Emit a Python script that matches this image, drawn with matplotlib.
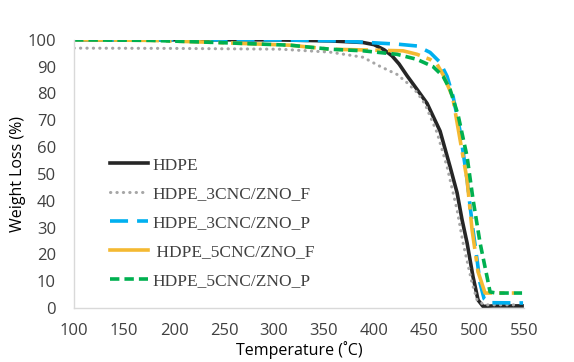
import numpy as np
import matplotlib.pyplot as plt
from matplotlib.lines import Line2D

# TGA curves (temperature in C, weight %)
t_hdpe = [100, 200, 300, 356, 389, 400, 410, 418, 425, 433, 443, 453, 466, 476, 483, 488, 493, 499, 504, 509, 519, 548]
w_hdpe = [100, 100, 100, 99.6, 99, 98.2, 96.3, 94, 91, 86.6, 81.5, 76.3, 66, 52.7, 43, 32.9, 24.3, 11.6, 3, 0.6, 0.8, 0.8]

t_3f = [100, 200, 306, 356, 389, 406, 423, 433, 443, 451, 463, 473, 483, 489, 498, 503, 510, 545]
w_3f = [96.9, 96.8, 96.5, 95.4, 93.5, 90.1, 87.1, 84, 80.4, 76, 65.4, 52.7, 36.6, 24.3, 9.3, 3, 1.2, 1.2]

t_3p = [100, 200, 300, 366, 423, 443, 456, 466, 473, 479, 486, 493, 496, 499, 503, 506, 510, 515, 549]
w_3p = [100, 100, 100, 99.6, 98.4, 97.7, 95.3, 91.6, 86.4, 78.9, 66, 48, 38, 29, 18, 9.3, 3.5, 2, 1.9]

t_5f = [100, 176, 243, 316, 356, 429, 443, 456, 463, 469, 476, 479, 486, 493, 498, 504, 511, 516, 540]
w_5f = [100, 99.8, 99, 98, 96.5, 95.9, 94.6, 92.7, 90.9, 87, 81, 77.8, 62.8, 47.9, 29.2, 13.5, 5.6, 5.6, 5.6]

t_5p = [100, 176, 243, 316, 356, 389, 423, 443, 459, 469, 476, 484, 493, 499, 506, 513, 516, 522, 548]
w_5p = [100, 99.8, 99, 98, 96.5, 95.9, 94.6, 92.7, 90, 86.4, 81.5, 72, 56.5, 40.4, 24.3, 11.6, 6, 5.6, 5.6]

labels = ["HDPE", "HDPE_3CNC/ZNO_F", "HDPE_3CNC/ZNO_P", " HDPE_5CNC/ZNO_F", "HDPE_5CNC/ZNO_P"]
x_ticks = [100, 150, 200, 250, 300, 350, 400, 450, 500, 550]
y_ticks = [0, 10, 20, 30, 40, 50, 60, 70, 80, 90, 100]

plt.rcParams['font.family'] = ['Open Sans', 'DejaVu Sans']

fig = plt.figure(figsize=(5.74, 3.62), dpi=100)
ax = fig.add_axes([0.129, 0.149, 0.784, 0.741])

ax.plot(t_hdpe, w_hdpe, color='#262626', lw=2.6, label=labels[0], solid_joinstyle='round')
ax.plot(t_3f, w_3f, color='#a6a6a6', lw=2.2, ls=(0, (0.1, 2.0)), dash_capstyle='round', label=labels[1])
ax.plot(t_3p, w_3p, color='#00b0f0', lw=2.6, ls=(0, (5, 2.5)), label=labels[2])
ax.plot(t_5f, w_5f, color='#f4b932', lw=2.6, ls=(0, (9, 2, 1.5, 2)), label=labels[3])
ax.plot(t_5p, w_5p, color='#00b050', lw=2.6, ls=(0, (2.6, 1.4)), label=labels[4])

ax.set_xlim(100, 550)
ax.set_ylim(0, 100)
ax.set_xticks(x_ticks)
ax.set_yticks(y_ticks)
ax.tick_params(length=0, labelsize=12, colors='#404040')
ax.tick_params(axis='y', pad=13)
ax.tick_params(axis='x', pad=11)
for s in ['top', 'right']:
    ax.spines[s].set_visible(False)
for s in ['left', 'bottom']:
    ax.spines[s].set_color('#d9d9d9')
    ax.spines[s].set_linewidth(1)

ax.set_xlabel("Temperature (˚C)", fontsize=11.5, color='black', labelpad=1)
ax.set_ylabel("Weight Loss (%)", fontsize=11.5, color='black', labelpad=1)

# legend: the orange entry shows as a plain segment, as in the reference
handles, _ = ax.get_legend_handles_labels()
handles[3] = Line2D([], [], color='#f4b932', lw=2.6)
leg = ax.legend(handles, labels, loc='upper left', bbox_to_anchor=(0.045, 0.62), frameon=False,
                prop={'family': 'Liberation Serif', 'size': 12.5},
                handlelength=2.2, handletextpad=0.25, labelspacing=0.74)
for txt in leg.get_texts():
    txt.set_color('#404040')

fig.savefig('out.png', dpi=100)
